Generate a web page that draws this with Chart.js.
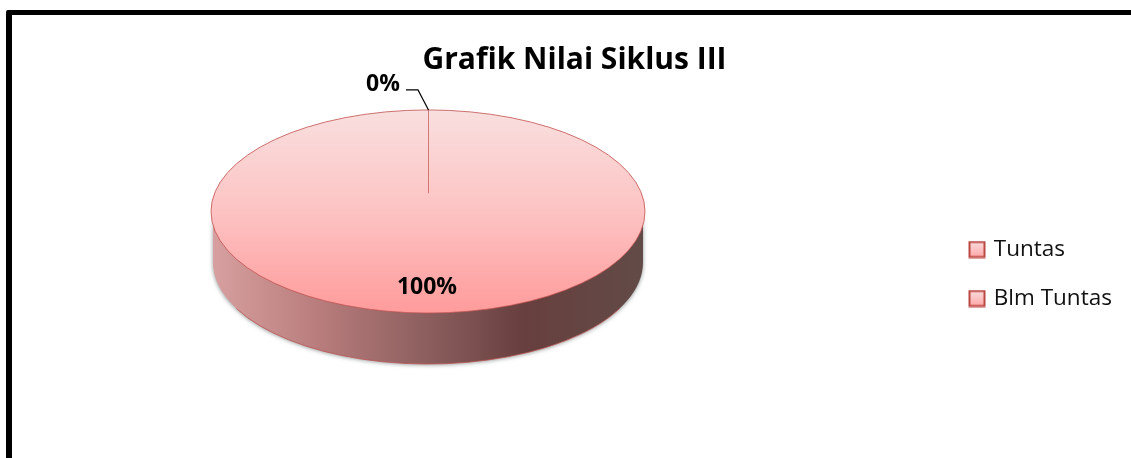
<!DOCTYPE html>
<html>
<head>
<meta charset="utf-8">
<style>
html,body{margin:0;padding:0;background:#fff;overflow:hidden;width:1131px;height:458px}
#frame{position:absolute;left:6px;top:10px;width:1140px;height:470px;border:solid #000;border-width:5px 6px;border-radius:2px;background:#fff}
#c{position:absolute;left:0;top:0}
</style>
<script src="https://cdn.jsdelivr.net/npm/chart.js@4/dist/chart.umd.min.js"></script>
</head>
<body>
<div id="frame"><canvas id="c" width="1125" height="448"></canvas></div>
<script>
const categories = ['Tuntas', 'Blm Tuntas'];
const seriesValues = [0, 100];
const titleText = 'Grafik Nilai Siklus III';

const FONT = '"Open Sans", Lato, sans-serif';
const centerX = 416, centerY = 196.5, radius = 217, squash = 0.468, depth = 51;

function legendSwatch() {
  const s = document.createElement('canvas');
  s.width = 18; s.height = 18;
  const g = s.getContext('2d');
  const f = g.createLinearGradient(0, 2, 0, 16);
  f.addColorStop(0, '#F8DADA'); f.addColorStop(1, '#FFA9A9');
  g.fillStyle = f; g.fillRect(1, 1, 16, 16);
  g.strokeStyle = '#BC4844'; g.lineWidth = 2; g.strokeRect(1.5, 1.5, 15, 15);
  return s;
}
const swatch = legendSwatch();

const pie3d = {
  id: 'pie3d',
  afterLayout(chart) {
    const a = chart.chartArea;
    a.left = centerX - 300; a.right = centerX + 300; a.width = 600;
    a.top = centerY - 180; a.bottom = centerY + 180; a.height = 360;
    const l = chart.legend;
    l.left = 933; l.right = l.left + l.width;
    l.top = 184; l.bottom = 334; l.height = 150;
  },
  beforeDatasetsDraw(chart) {
    const ctx = chart.ctx;
    const arc = chart.getDatasetMeta(0).data[1];
    const x = arc.x, y = arc.y, R = arc.outerRadius, ry = R * squash;
    const rb = R - 2;
    ctx.save();
    ctx.beginPath();
    ctx.ellipse(x, y + depth, rb, ry, 0, Math.PI, 0, true);
    ctx.lineTo(x + rb, y);
    ctx.ellipse(x, y, rb, ry, 0, 0, Math.PI, false);
    ctx.closePath();
    const side = ctx.createLinearGradient(x - R, 0, x + R, 0);
    side.addColorStop(0, '#D8A0A0');
    side.addColorStop(0.25, '#B87C7C');
    side.addColorStop(0.5, '#8C5E5E');
    side.addColorStop(0.72, '#673F3E');
    side.addColorStop(1, '#624B47');
    ctx.shadowColor = 'rgba(60,70,70,0.55)';
    ctx.shadowBlur = 4;
    ctx.shadowOffsetY = 1;
    ctx.fillStyle = side;
    ctx.fill();
    ctx.shadowColor = 'transparent';
    ctx.strokeStyle = 'rgba(190,80,77,0.75)';
    ctx.lineWidth = 1;
    ctx.beginPath();
    ctx.ellipse(x, y + depth, rb, ry, 0, Math.PI * 0.85, Math.PI * 0.15, true);
    ctx.stroke();
    ctx.restore();
    ctx.save();
    ctx.translate(x, y);
    ctx.scale(1, squash);
    ctx.translate(-x, -y);
  },
  afterDatasetsDraw(chart) {
    const ctx = chart.ctx;
    ctx.restore();
    const meta = chart.getDatasetMeta(0);
    const arc = meta.data[1];
    const x = arc.x, y = arc.y, R = arc.outerRadius, ry = R * squash;
    const total = seriesValues.reduce((a, b) => a + b, 0);
    const pct = seriesValues.map(v => Math.round(v / total * 100) + '%');
    ctx.save();
    ctx.strokeStyle = 'rgba(192,80,77,0.8)';
    ctx.lineWidth = 1;
    ctx.beginPath();
    ctx.ellipse(x, y, R, ry, 0, 0, Math.PI * 2);
    ctx.stroke();
    // slice boundary, at the start angle of the first slice
    const a0 = meta.data[0].startAngle;
    const tx = x + Math.cos(a0) * R, ty = y + Math.sin(a0) * ry;
    ctx.strokeStyle = 'rgba(192,80,77,0.7)';
    ctx.beginPath();
    ctx.moveTo(tx + 0.5, ty);
    ctx.lineTo(tx + 0.5, ty + ry * 0.82);
    ctx.stroke();
    // leader line of the 0% label
    ctx.strokeStyle = '#000';
    ctx.lineWidth = 1.2;
    ctx.beginPath();
    ctx.moveTo(tx + 0.5, ty);
    ctx.lineTo(tx - 10, ty - 20);
    ctx.lineTo(tx - 22, ty - 20);
    ctx.stroke();
    ctx.fillStyle = '#000';
    ctx.font = 'bold 23px ' + FONT;
    ctx.textAlign = 'center';
    ctx.textBaseline = 'middle';
    ctx.fillText(pct[0], tx - 45, ty - 25);
    ctx.fillText(pct[1], x - 1, y + ry * 0.75);
    ctx.restore();
  }
};

new Chart(document.getElementById('c'), {
  type: 'pie',
  data: {
    labels: categories,
    datasets: [{
      data: seriesValues,
      clip: false,
      radius: radius,
      borderWidth: 0,
      backgroundColor(context) {
        const g = context.chart.ctx.createLinearGradient(0, centerY - radius, 0, centerY + radius);
        g.addColorStop(0, '#F9DFDF');
        g.addColorStop(0.5, '#FDC3C3');
        g.addColorStop(1, '#FF9B9B');
        return g;
      }
    }]
  },
  options: {
    responsive: false,
    animation: false,
    devicePixelRatio: 1,
    radius: radius,
    plugins: {
      tooltip: { enabled: false },
      title: {
        display: true,
        text: titleText,
        color: '#000',
        font: { family: FONT, size: 30, weight: 'bold' },
        padding: { top: 27, bottom: 4 }
      },
      legend: {
        position: 'right',
        labels: {
          usePointStyle: true,
          boxWidth: 11,
          pointStyleWidth: 11,
          padding: 26.5,
          color: '#111',
          font: { family: FONT, size: 22.5 },
          generateLabels() {
            return categories.map((t, i) => ({ text: t, pointStyle: swatch, index: i, fontColor: '#111', hidden: false }));
          }
        }
      }
    }
  },
  plugins: [pie3d]
});
</script>
</body>
</html>
